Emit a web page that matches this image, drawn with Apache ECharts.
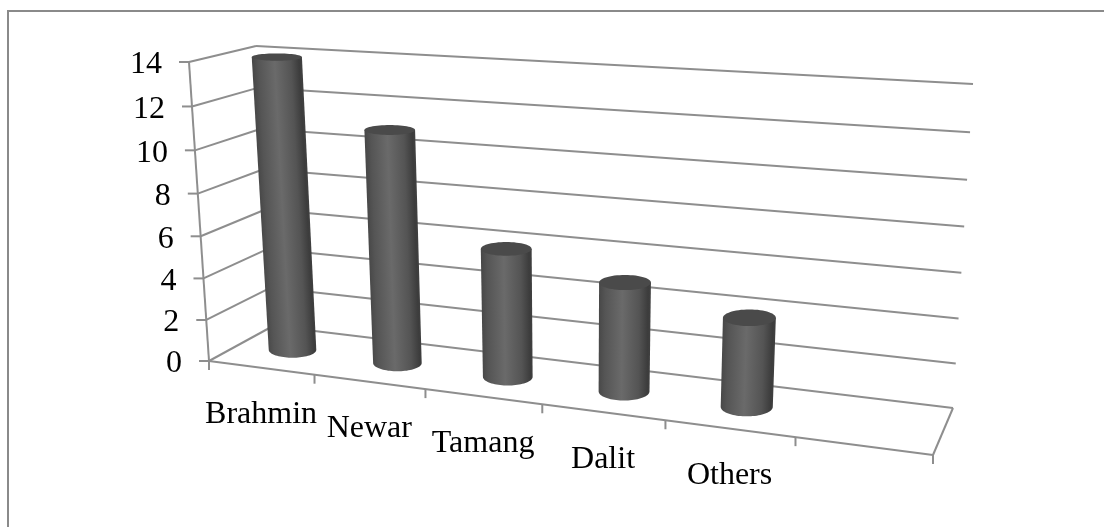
<!DOCTYPE html>
<html><head><meta charset="utf-8">
<style>html,body{margin:0;padding:0;background:#fff}#c{width:1104px;height:527px}</style>
<script src="https://cdn.jsdelivr.net/npm/echarts@6/dist/echarts.min.js"></script>
</head><body><div id="c"></div>
<script>
const categories = ['Brahmin', 'Newar', 'Tamang', 'Dalit', 'Others', ''];
const values = [14, 11, 6, 5, 4];
const yTicks = [0, 2, 4, 6, 8, 10, 12, 14];
const yMax = 14;

// Perspective box: screen corners of the chart's 3D frame
const BOX = {
  fb0: [209, 361], fb1: [933, 455], bb0: [273, 326], bb1: [953, 408],
  ft0: [189, 62],  ft1: [954, 109], bt0: [256, 46],  bt1: [973, 84]
};
const KU = 0.147, KV = 0.046;
const warp = (t, k) => t * (1 - k) / (1 - k * t);
const mix = (a, b, t) => [a[0] + (b[0] - a[0]) * t, a[1] + (b[1] - a[1]) * t];
// u: warped position along categories, v: warped height, w: depth (0 front, 1 back)
function project(u, v, w) {
  const fb = mix(BOX.fb0, BOX.fb1, u), bb = mix(BOX.bb0, BOX.bb1, u);
  const ft = mix(BOX.ft0, BOX.ft1, u), bt = mix(BOX.bt0, BOX.bt1, u);
  return mix(mix(fb, bb, w), mix(ft, bt, w), v);
}
// read the grid's own scales and send the result through the perspective
function norm(params, api, cat, val, bandShift) {
  const cs = params.coordSys;
  const p = api.coord([cat, val]);
  const band = api.size([1, 0])[0];
  const tx = (p[0] + (bandShift || 0) * band - cs.x) / cs.width;
  const ty = (cs.y + cs.height - p[1]) / cs.height;
  return { u: warp(tx, KU), v: warp(ty, KV) };
}
const LINE = { stroke: '#8e8e8e', lineWidth: 2, fill: null };
const seg = (a, b) => ({ type: 'line', shape: { x1: a[0], y1: a[1], x2: b[0], y2: b[1] }, style: LINE, silent: true });
const TXT = { fontFamily: '"Liberation Serif","Times New Roman",serif', fontSize: 32, fill: '#000' };

function renderGrid(params, api) {
  const n = norm(params, api, 0, api.value(0), -0.5);
  const f = project(0, n.v, 0), b = project(0, n.v, 1), r = project(1, n.v, 1);
  const kids = [seg([f[0] - 10, f[1]], f), seg(f, b), seg(b, r)];
  kids.push({ type: 'text', x: f[0] - 27, y: f[1] + 3, silent: true,
    style: Object.assign({ text: String(api.value(0)), align: 'right', verticalAlign: 'middle' }, TXT) });
  return { type: 'group', children: kids };
}
function renderFrame(params, api) {
  const kids = [
    seg(project(0, 0, 0), project(0, 1, 0)),
    seg(project(0, 0, 0), project(1, 0, 0)),
    seg(project(1, 0, 0), project(1, 0, 1))
  ];
  return { type: 'group', children: kids };
}
function renderCatTick(params, api) {
  const kids = [];
  const n = norm(params, api, api.value(0), 0, 0.5);
  const a = project(n.u, 0, 0);
  kids.push(seg(a, [a[0], a[1] + 9]));
  if (api.value(0) === 0) {
    const z = project(0, 0, 0);
    kids.push(seg(z, [z[0], z[1] + 9]));
  }
  const c = norm(params, api, api.value(0), 0, 0);
  const f = project(c.u, 0, 0);
  const name = categories[api.value(0)];
  if (name) kids.push({ type: 'text', x: f[0], y: f[1] + 47, silent: true,
    style: Object.assign({ text: name, align: 'center', verticalAlign: 'middle' }, TXT) });
  return { type: 'group', children: kids };
}
const RU = 0.0335, RW = 0.22, WC = 0.5, BAR_SHIFT = 1;
function ellipse(u, v) {
  const p = project(u, v, WC);
  const c = [p[0] + BAR_SHIFT, p[1]];
  const ru = RU * (1 + 0.15 * u);
  const a = project(u - ru, v, WC), b = project(u + ru, v, WC);
  const d0 = project(u, v, WC - RW), d1 = project(u, v, WC + RW);
  return { c: c, rx: Math.abs(b[0] - a[0]) / 2, ry: Math.abs(d0[1] - d1[1]) / 2 };
}
function ring(e, from, to, n) {
  const pts = [];
  for (let i = 0; i <= n; i++) {
    const t = from + (to - from) * i / n;
    pts.push([e.c[0] + e.rx * Math.cos(t), e.c[1] + e.ry * Math.sin(t)]);
  }
  return pts;
}
function renderBar(params, api) {
  const cat = api.value(0), val = api.value(1);
  const top = norm(params, api, cat, val, 0), bot = norm(params, api, cat, 0, 0);
  const et = ellipse(top.u, top.v), eb = ellipse(bot.u, 0);
  const lt = [et.c[0] - et.rx, et.c[1]], rt = [et.c[0] + et.rx, et.c[1]];
  const body = [lt, rt].concat(ring(eb, 0, Math.PI, 40));
  // gradient perpendicular to the cylinder's axis
  const ax = [et.c[0] - eb.c[0], et.c[1] - eb.c[1]];
  const len = Math.hypot(ax[0], ax[1]) || 1;
  const nx = [-ax[1] / len, ax[0] / len];
  const dir = nx[0] < 0 ? [-nx[0], -nx[1]] : nx;
  const m = [(et.c[0] + eb.c[0]) / 2, (et.c[1] + eb.c[1]) / 2];
  const r = (et.rx + eb.rx) / 2;
  const grad = new echarts.graphic.LinearGradient(
    m[0] - dir[0] * r, m[1] - dir[1] * r, m[0] + dir[0] * r, m[1] + dir[1] * r,
    [{ offset: 0, color: '#484848' }, { offset: 0.12, color: '#555555' }, { offset: 0.45, color: '#6a6a6a' },
     { offset: 0.78, color: '#545454' }, { offset: 0.95, color: '#3c3c3c' }, { offset: 1, color: '#404040' }], true);
  return { type: 'group', children: [
    { type: 'polygon', shape: { points: body }, style: { fill: grad }, silent: true },
    { type: 'polygon', shape: { points: ring(et, 0, Math.PI * 2, 60) }, style: { fill: '#4a4a4a' }, silent: true }
  ] };
}
const catIdx = categories.map((_, i) => [i]);
const barData = values.map((v, i) => [i, v]);
const chart = echarts.init(document.getElementById('c'), null, { renderer: 'canvas' });
chart.setOption({
  animation: false,
  backgroundColor: '#fff',
  grid: { left: 100, right: 100, top: 50, bottom: 50 },
  xAxis: { type: 'category', data: categories, show: false },
  yAxis: { type: 'value', min: 0, max: yMax, interval: 2, show: false },
  graphic: [
    { type: 'polyline', silent: true, shape: { points: [[8, 527], [8, 11], [1104, 11]] },
      style: { stroke: '#8a8a8a', lineWidth: 2, fill: null } }
  ],
  series: [
    { type: 'custom', coordinateSystem: 'cartesian2d', data: yTicks.map(v => [v]), encode: { y: 0 }, renderItem: renderGrid, silent: true, z: 1 },
    { type: 'custom', coordinateSystem: 'cartesian2d', data: [[0]], encode: { x: 0 }, renderItem: renderFrame, silent: true, z: 1 },
    { type: 'custom', coordinateSystem: 'cartesian2d', data: catIdx, encode: { x: 0 }, renderItem: renderCatTick, silent: true, z: 1 },
    { type: 'custom', coordinateSystem: 'cartesian2d', data: barData, encode: { x: 0, y: 1 }, renderItem: renderBar, silent: true, z: 2 }
  ]
});
</script></body></html>
